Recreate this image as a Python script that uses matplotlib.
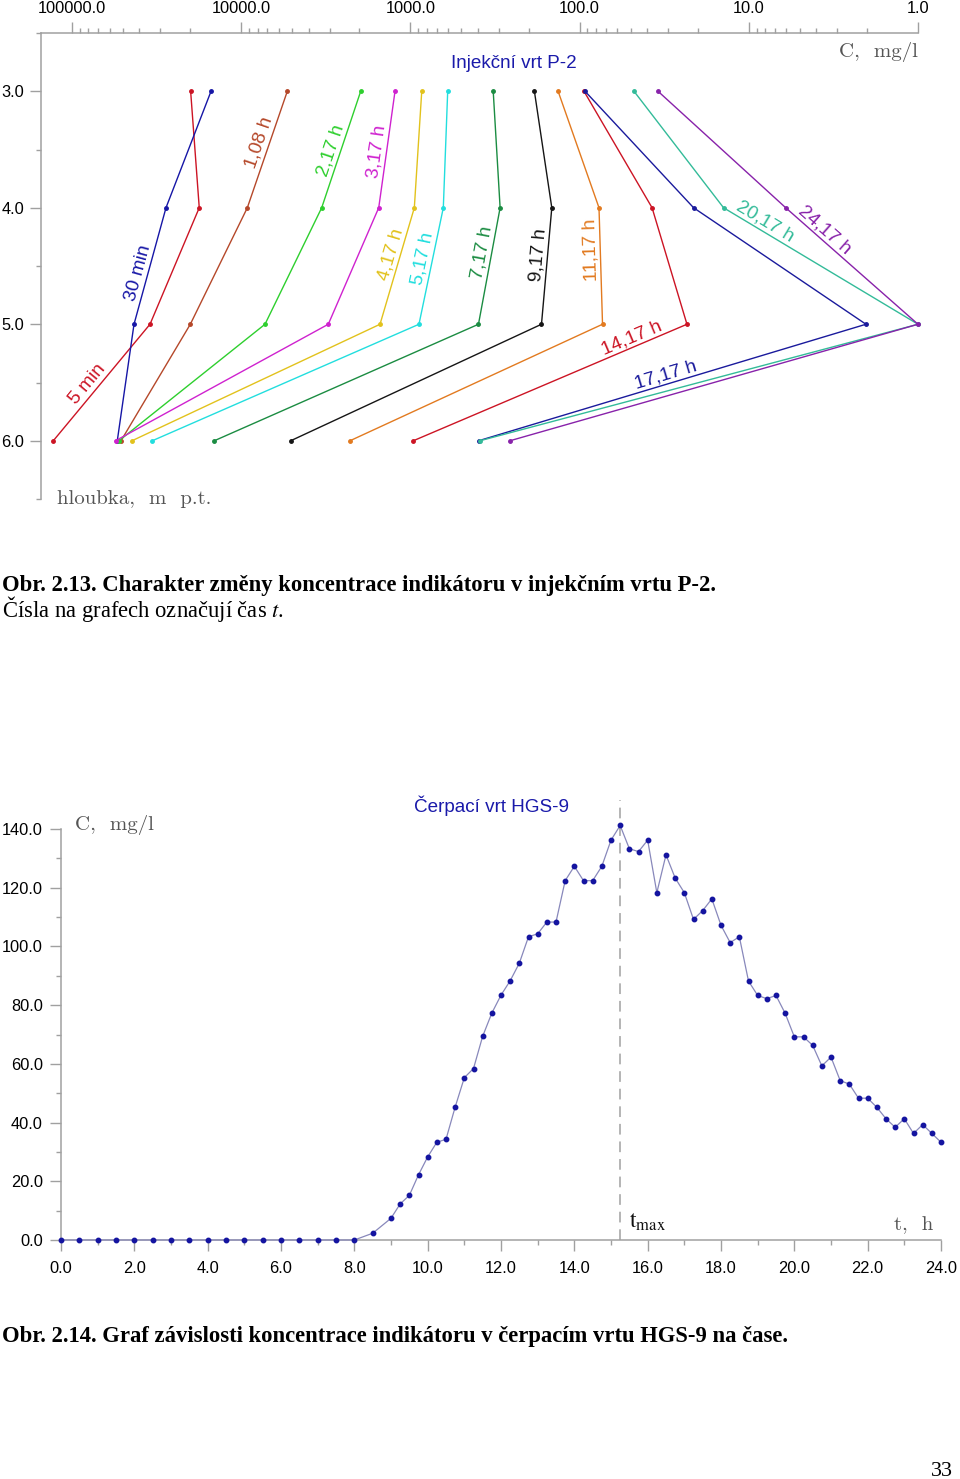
import numpy as np
import matplotlib
matplotlib.use('Agg')
import matplotlib.pyplot as plt
from matplotlib.ticker import (LogLocator, NullFormatter, FormatStrFormatter,
                               FixedLocator)

# ---------------- data: top chart (injection well P-2) ----------------
depths = [3.0, 4.0, 5.0, 6.0]
series_labels = ['5 min', '30 min', '1,08 h', '2,17 h', '3,17 h', '4,17 h',
                 '5,17 h', '7,17 h', '9,17 h', '11,17 h', '14,17 h',
                 '17,17 h', '20,17 h', '24,17 h']
c_5min = [19900, 17700, 34600, 129000]
c_30min = [15080, 27830, 43010, 54000]
c_1_08h = [5340, 9200, 19990, 51330]
c_2_17h = [1967, 3344, 7234, 52760]
c_3_17h = [1233, 1539, 3057, 55320]
c_4_17h = [857, 948, 1512, 44200]
c_5_17h = [602, 639, 890, 33530]
c_7_17h = [324, 295, 396, 14420]
c_9_17h = [185, 146, 168, 5097]
c_11_17h = [134, 76.8, 73.2, 2275]
c_14_17h = [94.2, 37.3, 23.2, 961]
c_17_17h = [92.9, 21.2, 2.03, 395]
c_20_17h = [47.7, 14.1, 1.0, 388]
c_24_17h = [34.4, 6.05, 1.0, 258]
top_series = [c_5min, c_30min, c_1_08h, c_2_17h, c_3_17h, c_4_17h, c_5_17h,
              c_7_17h, c_9_17h, c_11_17h, c_14_17h, c_17_17h, c_20_17h, c_24_17h]
top_colors = ['#cc1424', '#1616a6', '#b5482a', '#2ecf2e', '#cf22cf', '#e2c21c',
              '#22dede', '#1b8c42', '#151515', '#e27a20', '#cc1424', '#1a1a9c',
              '#33bb99', '#8822aa']
# label placement: segment index, fraction along segment
label_seg = [2, 1, 0, 0, 0, 1, 1, 1, 1, 1, 2, 2, 1, 1]
label_frac = [0.57, 0.58, 0.47, 0.53, 0.53, 0.42, 0.45, 0.40, 0.41, 0.36,
              0.19, 0.51, 0.19, 0.25]
top_xticks = [100000.0, 10000.0, 1000.0, 100.0, 10.0, 1.0]
top_yticks = [3.0, 4.0, 5.0, 6.0]

# ---------------- data: bottom chart (pumping well HGS-9) ----------------
times = [0.0, 0.5, 1.0, 1.5, 2.0, 2.5, 3.0, 3.5, 4.0, 4.5, 5.0, 5.5, 6.0, 6.5,
         7.0, 7.5, 8.0, 8.5, 9.0, 9.25, 9.5, 9.75, 10.0, 10.25, 10.5, 10.75,
         11.0, 11.25, 11.5, 11.75, 12.0, 12.25, 12.5, 12.75, 13.0, 13.25, 13.5,
         13.75, 14.0, 14.25, 14.5, 14.75, 15.0, 15.25, 15.5, 15.75, 16.0, 16.25,
         16.5, 16.75, 17.0, 17.25, 17.5, 17.75, 18.0, 18.25, 18.5, 18.75, 19.0,
         19.25, 19.5, 19.75, 20.0, 20.25, 20.5, 20.75, 21.0, 21.25, 21.5, 21.75,
         22.0, 22.25, 22.5, 22.75, 23.0, 23.25, 23.5, 23.75, 24.0]
conc = [0, 0, 0, 0, 0, 0, 0, 0, 0, 0, 0, 0, 0, 0, 0, 0, 0,
        2.3, 7.4, 12.3, 15.2, 22.2, 28.3, 33.3, 34.3, 45.3,
        55.3, 58.4, 69.4, 77.3, 83.4, 88.3, 94.3, 103.3, 104.3, 108.3, 108.3,
        122.4, 127.3, 122.4, 122.4, 127.3, 136.2, 141.2, 133.3, 132.3, 136.2, 118.3,
        131.2, 123.3, 118.3, 109.2, 112.2, 116.2, 107.2, 101.3, 103.3, 88.2, 83.3,
        82.2, 83.3, 77.2, 69.2, 69.2, 66.3, 59.3, 62.3, 54.3, 53.1, 48.3,
        48.3, 45.2, 41.3, 38.4, 41.3, 36.3, 39.3, 36.3, 33.3]
bot_xticks = [0, 2, 4, 6, 8, 10, 12, 14, 16, 18, 20, 22, 24]
bot_yticks = [0, 20, 40, 60, 80, 100, 120, 140]

# ---------------- figure ----------------
W, H = 960, 1479
DPI = 100
plt.rcParams['font.family'] = ['Liberation Sans', 'DejaVu Sans']
plt.rcParams['mathtext.fontset'] = 'stix'
fig = plt.figure(figsize=(W / DPI, H / DPI), dpi=DPI)


def fx(x):
    return x / W


def fy(y):
    return 1 - y / H


spine_c = '#a0a0a0'
tick_fs = 11.8
serif_fs = 15

# ---- top axes ----
ax1 = fig.add_axes([fx(41), fy(499), fx(918) - fx(41), fy(33) - fy(499)])
ax1.set_xscale('log')
ax1.set_xlim(152500, 1.0)
ax1.set_ylim(6.5, 2.5)
for s in ['bottom', 'right']:
    ax1.spines[s].set_visible(False)
for s in ['top', 'left']:
    ax1.spines[s].set_color(spine_c)
    ax1.spines[s].set_linewidth(1.1)
ax1.xaxis.set_ticks_position('top')
ax1.xaxis.set_major_locator(FixedLocator(top_xticks))
ax1.xaxis.set_minor_locator(LogLocator(base=10, subs=np.arange(2, 10)))
ax1.xaxis.set_minor_formatter(NullFormatter())
ax1.xaxis.set_major_formatter(FormatStrFormatter('%.1f'))
ax1.yaxis.set_major_locator(FixedLocator(top_yticks))
ax1.yaxis.set_minor_locator(FixedLocator([2.5, 3.5, 4.5, 5.5, 6.5]))
ax1.yaxis.set_major_formatter(FormatStrFormatter('%.1f'))
ax1.tick_params(which='major', length=8, width=1.0, color=spine_c,
                labelsize=tick_fs)
ax1.tick_params(which='minor', length=3.6, width=1.0, color=spine_c)
ax1.tick_params(axis='x', which='major', pad=4.5)
ax1.tick_params(axis='y', which='major', pad=4)

for vals, col in zip(top_series, top_colors):
    ax1.plot(vals, depths, '-', color=col, lw=1.0, marker='o', ms=2.5,
             mec=col, mfc=col, clip_on=False, zorder=3)

for vals, col, lab, seg, fr in zip(top_series, top_colors, series_labels,
                                   label_seg, label_frac):
    p1 = ax1.transData.transform((vals[seg], depths[seg]))
    p2 = ax1.transData.transform((vals[seg + 1], depths[seg + 1]))
    p = p1 + fr * (p2 - p1)
    ang = np.degrees(np.arctan2(p2[1] - p1[1], p2[0] - p1[0]))
    while ang > 120:
        ang -= 180
    while ang <= -60:
        ang += 180
    th = np.radians(ang)
    n = np.array([-np.sin(th), np.cos(th)])
    c = p + 9.5 * n
    xd, yd = ax1.transData.inverted().transform(c)
    ax1.text(xd, yd, lab, rotation=ang, rotation_mode='anchor', ha='center',
             va='center', color=col, fontsize=13.8, zorder=4)

fig.text(fx(514), fy(63), 'Injekční vrt P-2', color='#1a1aaa', fontsize=13.6,
         ha='center', va='center')
fig.text(fx(918), fy(52), 'C,  mg/l', family='cmr10', color='#555555',
         fontsize=serif_fs, ha='right', va='center')
fig.text(fx(57), fy(499), 'hloubka,  m  p.t.', family='cmr10', color='#555555',
         fontsize=serif_fs, ha='left', va='center')

# ---- captions ----
cap_fs = 16.3
fig.text(fx(2), fy(591), 'Obr. 2.13. Charakter změny koncentrace indikátoru v injekčním vrtu P-2.',
         family='Liberation Serif', weight='bold', fontsize=cap_fs, ha='left',
         va='baseline')
fig.text(fx(2), fy(617), 'Čísla na grafech označují čas $t$.',
         family='Liberation Serif', fontsize=cap_fs, ha='left', va='baseline')
fig.text(fx(2), fy(1342), 'Obr. 2.14. Graf závislosti koncentrace indikátoru v čerpacím vrtu HGS-9 na čase.',
         family='Liberation Serif', weight='bold', fontsize=cap_fs, ha='left',
         va='baseline')
fig.text(fx(953), fy(1476), '33', family='Liberation Serif', fontsize=16,
         ha='right', va='baseline')

# ---- bottom axes ----
ax2 = fig.add_axes([fx(61), fy(1240), fx(941) - fx(61), fy(829) - fy(1240)])
ax2.set_xlim(0, 24)
ax2.set_ylim(0, 140)
for s in ['top', 'right']:
    ax2.spines[s].set_visible(False)
for s in ['bottom', 'left']:
    ax2.spines[s].set_color(spine_c)
    ax2.spines[s].set_linewidth(1.1)
ax2.xaxis.set_major_locator(FixedLocator(bot_xticks))
ax2.xaxis.set_minor_locator(FixedLocator([1, 3, 5, 7, 9, 11, 13, 15, 17, 19, 21, 23]))
ax2.yaxis.set_major_locator(FixedLocator(bot_yticks))
ax2.yaxis.set_minor_locator(FixedLocator([10, 30, 50, 70, 90, 110, 130]))
ax2.xaxis.set_major_formatter(FormatStrFormatter('%.1f'))
ax2.yaxis.set_major_formatter(FormatStrFormatter('%.1f'))
ax2.tick_params(which='major', length=8, width=1.0, color=spine_c,
                labelsize=tick_fs)
ax2.tick_params(which='minor', length=3.6, width=1.0, color=spine_c)
ax2.tick_params(axis='x', which='major', pad=7)
ax2.tick_params(axis='y', which='major', pad=5)

ax2.plot(times, conc, '-', color='#8888bb', lw=0.9, zorder=3, clip_on=False)
ax2.plot(times, conc, 'o', color='#1414a0', ms=3.2, zorder=4, clip_on=False)

t_max = times[int(np.argmax(conc))]
ax2.plot([t_max, t_max], [0, 150], color='#a0a0a0', lw=1.1,
         dashes=(7, 4.5), clip_on=False, zorder=2)

fig.text(fx(491), fy(806), 'Čerpací vrt HGS-9', color='#1a1aaa', fontsize=13.6,
         ha='center', va='center')
fig.text(fx(75), fy(825), 'C,  mg/l', family='cmr10', color='#555555',
         fontsize=serif_fs, ha='left', va='center')
fig.text(fx(933), fy(1230), 't,  h', family='cmr10', color='#555555',
         fontsize=serif_fs, ha='right', va='baseline')
fig.text(fx(629), fy(1228), r'$\mathrm{t}_{\mathrm{max}}$', fontsize=17,
         color='#111111', ha='left', va='baseline')

fig.savefig('out.png', dpi=DPI)
